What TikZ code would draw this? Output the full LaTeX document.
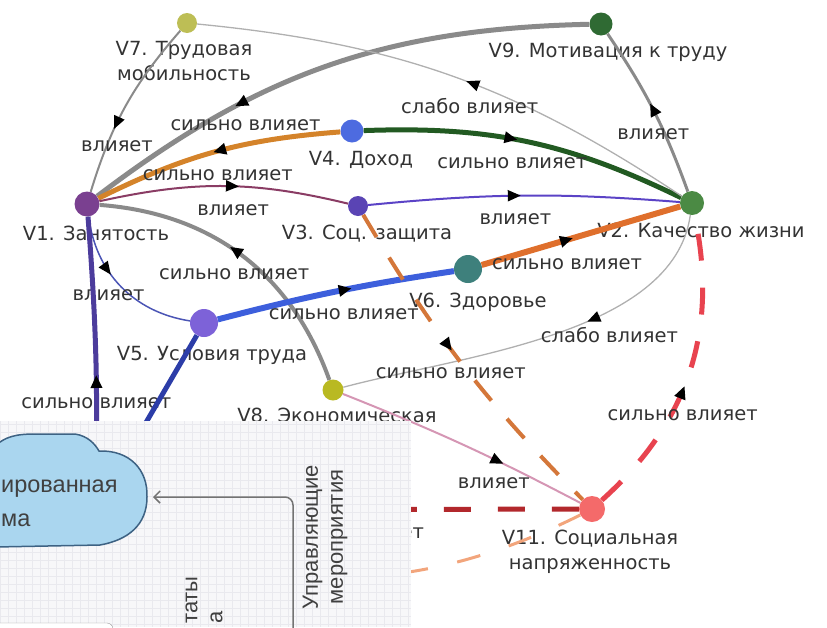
\documentclass[tikz,border=0pt]{standalone}
\usepackage{xcolor}
\usepackage{fontspec}
\setmainfont{DejaVu Sans}
\newfontfamily\boardfont{Liberation Sans}
\usetikzlibrary{arrows.meta, positioning, decorations.markings}

\definecolor{nV1}{HTML}{7A4090}
\definecolor{nV2}{HTML}{4B8A44}
\definecolor{nV3}{HTML}{5A44B4}
\definecolor{nV4}{HTML}{4D6BE0}
\definecolor{nV5}{HTML}{7D62D8}
\definecolor{nV6}{HTML}{3E807C}
\definecolor{nV7}{HTML}{BDBE55}
\definecolor{nV8}{HTML}{B9B922}
\definecolor{nV9}{HTML}{2F6A33}
\definecolor{nV11}{HTML}{F46A6A}
\definecolor{eGray}{HTML}{8A8A8A}
\definecolor{eLight}{HTML}{B0B0B0}
\definecolor{eOrange}{HTML}{D4832A}
\definecolor{eGreen}{HTML}{225A22}
\definecolor{eMaroon}{HTML}{8A3C64}
\definecolor{eViolet}{HTML}{5B43C6}
\definecolor{eBlueThin}{HTML}{4B55B5}
\definecolor{eBlue}{HTML}{3D5FDC}
\definecolor{eOrangeB}{HTML}{DF6F2C}
\definecolor{eOrangeD}{HTML}{D4773A}
\definecolor{ePink}{HTML}{D596B4}
\definecolor{eRed}{HTML}{E8434F}
\definecolor{ePurple}{HTML}{4C3C9C}
\definecolor{eNavy}{HTML}{2C3DA8}
\definecolor{eDarkRed}{HTML}{B2282C}
\definecolor{ePeach}{HTML}{F2A57C}
\definecolor{txt}{HTML}{333333}
\definecolor{paper}{HTML}{F7F7F9}
\definecolor{gridc}{HTML}{E9E9EE}
\definecolor{cloudfill}{HTML}{AAD6EF}
\definecolor{clouddraw}{HTML}{3D6283}

\begin{document}
\begin{tikzpicture}[
        x=1pt, y=-1pt,
        vert/.style={circle, inner sep=0pt, minimum size=#1},
        vlabel/.style={font=\fontsize{19.5}{24.5}\selectfont, text=txt, inner sep=1pt, text height=14pt, text depth=4pt},
        vlabel2/.style={font=\fontsize{19.5}{24.5}\selectfont, text=txt, inner sep=1pt, align=center},
        lbl/.style={font=\fontsize{19.5}{24.5}\selectfont, text=txt, inner sep=1pt, yshift=-24pt},
        midarrow/.style={postaction={decorate, decoration={markings,
            mark=at position #1 with {\arrow{Triangle[length=13pt, width=11pt, color=black]}}}}},
        longdash/.style={dash pattern=on 27pt off 27pt},
        board/.style={font=\boardfont\fontsize{22}{25}\selectfont, text=black!75, inner sep=0pt}
    ]
    \useasboundingbox (0,0) rectangle (827,627);

    % Vertices
    \node[vert=25pt, fill=nV1] (V1) at (87,204) {};
    \node[vert=24pt, fill=nV2] (V2) at (692,203) {};
    \node[vert=20pt, fill=nV3] (V3) at (358,206) {};
    \node[vert=23pt, fill=nV4] (V4) at (352,131) {};
    \node[vert=28pt, fill=nV5] (V5) at (204,323) {};
    \node[vert=28pt, fill=nV6] (V6) at (468,269) {};
    \node[vert=20pt, fill=nV7] (V7) at (187,23) {};
    \node[vert=21pt, fill=nV8] (V8) at (333,390) {};
    \node[vert=23pt, fill=nV9] (V9) at (601,24) {};
    \node[vert=26pt, fill=nV11] (V11) at (592,509) {};
    \coordinate (V10) at (95,510);

    % Vertex labels
    \node[vlabel, below=8.5pt of V1, xshift=9pt] (t1) {V1. Занятость};
    \node[vlabel, below=7pt of V2, xshift=9pt] (t2) {V2. Качество жизни};
    \node[vlabel, below=8pt of V3, xshift=9pt] (t3) {V3. Соц. защита};
    \node[vlabel, below=7.5pt of V4, xshift=9pt] (t4) {V4. Доход};
    \node[vlabel, below=8pt of V5, xshift=8pt] (t5) {V5. Условия труда};
    \node[vlabel, below=9pt of V6, xshift=10pt] (t6) {V6. Здоровье};
    \node[vlabel2, below=7pt of V7, xshift=-3pt] (t7) {V7. Трудовая\\мобильность};
    \node[vlabel, below=6.5pt of V8, xshift=4pt] (t8) {V8. Экономическая};
    \node[vlabel, below=6.5pt of V9, xshift=7pt] (t9) {V9. Мотивация к труду};
    \node[vlabel2, below=7pt of V11, xshift=-2pt] (t11) {V11. Социальная\\напряженность};

    % Connections
    \draw[eGray, line width=2pt, midarrow=0.64] (V7) to[bend right=12] node[lbl, pos=0.61] {влияет} (V1);
    \draw[eGray, line width=5pt, midarrow=0.69] (V9) to[bend right=18] node[lbl, pos=0.68] {сильно влияет} (V1);
    \draw[eOrange, line width=5pt, midarrow=0.51] (V4) to[bend right=11] node[lbl, pos=0.49] {сильно влияет} (V1);
    \draw[eGreen, line width=5pt, midarrow=0.47] (V4) to[bend left=14] node[lbl, pos=0.45] {сильно влияет} (V2);
    \draw[eLight, line width=1.3pt, midarrow=0.47] (V2) to[bend right=14] node[lbl, pos=0.46] {слабо влияет} (V7);
    \draw[eGray, line width=3pt, midarrow=0.54] (V2) to[bend right=7] node[lbl, pos=0.50] {влияет} (V9);
    \draw[eMaroon, line width=2pt, midarrow=0.56] (V1) to[bend left=13] node[lbl, pos=0.54] {влияет} (V3);
    \draw[eViolet, line width=2pt, midarrow=0.49] (V3) to[bend left=5] node[lbl, pos=0.47] {влияет} (V2);
    \draw[eGray, line width=4pt, midarrow=0.55] (V8) to[bend right=33] node[lbl, pos=0.535] {сильно влияет} (V1);
    \draw[eBlueThin, line width=1.5pt, midarrow=0.40] (V1) to[bend right=37] node[lbl, pos=0.37] {влияет} (V5);
    \draw[eBlue, line width=6pt, midarrow=0.57] (V5) to[bend left=3] node[lbl, pos=0.54] {сильно влияет} (V6);
    \draw[eOrangeB, line width=6pt, midarrow=0.46] (V6) to node[lbl, pos=0.43] {сильно влияет} (V2);
    \draw[eLight, line width=1.3pt, midarrow=0.38] (V2) to[out=262, in=15, looseness=0.8] node[lbl, pos=0.36] {слабо влияет} (V8);
    \draw[eOrangeD, line width=4pt, dash pattern=on 26pt off 24pt, midarrow=0.45] (V3) to[bend right=7] node[lbl, pos=0.44] {сильно влияет} (V11);
    \draw[ePink, line width=2pt, midarrow=0.67] (V8) to[bend left=3] node[lbl, pos=0.64] {влияет} (V11);
    \draw[eRed, line width=5pt, longdash, midarrow=0.45] (V11) to[bend right=30] node[lbl, pos=0.43] {сильно влияет} (V2);
    \draw[ePurple, line width=5pt, midarrow=0.46] (V10) to[bend right=3] node[lbl, pos=0.44] {сильно влияет} (V1);
    \draw[eNavy, line width=5pt] (V5) to (V10);
    \draw[eDarkRed, line width=5pt, longdash, midarrow=0.48] (V11) to node[lbl, pos=0.475] {сильно влияет} (V10);
    \draw[ePeach, line width=3pt, dash pattern=on 24pt off 30pt] (V11) to[bend left=27] (V10);

    % Inset board
    \begin{scope}
        \clip (0,421) rectangle (411,627);
        \fill[paper] (0,421) rectangle (411,627);
        \draw[gridc, line width=0.5pt, step=8pt] (0,421) grid (411,627);
        \draw[clouddraw, fill=cloudfill, line width=1.5pt] (-5,446) .. controls (5,437) and (15,434) .. (35,434) -- (75,434)
            .. controls (88,436) and (95,444) .. (99,451) .. controls (130,450) and (148,470) .. (147,497)
            .. controls (147,525) and (128,540) .. (100,545) -- (-5,547) -- cycle;
        \node[board, font=\boardfont\fontsize{23.5}{28}\selectfont, anchor=west] (c1) at (1,489) {ированная};
        \node[board, font=\boardfont\fontsize{23.5}{28}\selectfont, anchor=west] (c2) at (1,520) {ма};
        \coordinate (cloudR) at (153,497);
        \coordinate (flowS) at (293,640);
        \draw[black!55, line width=1.5pt, rounded corners=8pt, -{Straight Barb[length=6pt, width=12pt]}] (flowS) |- (cloudR);
        \node[board, rotate=90, align=center] (m1) at (325,537) {Управляющие\\мероприятия};
        \node[board, rotate=90, align=left, anchor=west] (m2) at (204,624) {таты\\а};
        \draw[black!40, fill=white, rounded corners=6pt] (-10,623) rectangle (113,680);
    \end{scope}
\end{tikzpicture}
\end{document}
